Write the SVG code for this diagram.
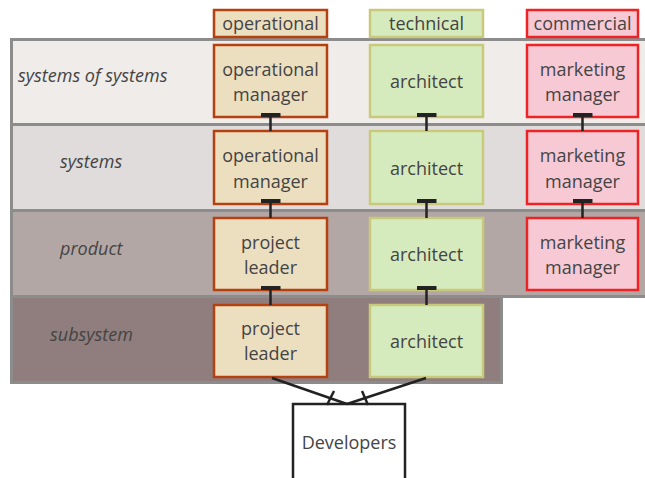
<svg xmlns="http://www.w3.org/2000/svg" width="645" height="478" viewBox="0 0 645 478">
  <defs>
    <style>
      text { font-family: "Open Sans", "Noto Sans", "Liberation Sans", sans-serif; font-size: 18px; fill: #444; text-anchor: middle; }
      .lvl { font-style: italic; text-anchor: start; fill: #444; }
      .band { stroke: #8c8c8c; stroke-width: 3; }
      .op { fill: #ecdfc0; stroke: #b4410f; stroke-width: 2.5; }
      .tech { fill: #d6ebbd; stroke: #c9c97c; stroke-width: 2.5; }
      .com { fill: #f7c9d5; stroke: #ee2424; stroke-width: 2.5; }
      .dev { fill: #fff; stroke: #222; stroke-width: 2.5; }
      .link { stroke: #222; stroke-width: 2.5; fill: none; }
    </style>
    <marker id="tee" viewBox="0 0 4 20" refX="2" refY="10" markerWidth="4" markerHeight="20" markerUnits="userSpaceOnUse" orient="auto">
      <rect x="0" y="0" width="4" height="20" fill="#222"/>
    </marker>
  </defs>

  <!-- abstraction levels -->
  <g id="level-sos">
    <rect class="band" x="11.5" y="39.5" width="640" height="85" fill="#f0ecea"/>
    <text class="lvl" x="18" y="82">systems of systems</text>
  </g>
  <g id="level-systems">
    <rect class="band" x="11.5" y="124.5" width="640" height="86" fill="#e0dcdc"/>
    <text class="lvl" x="60" y="168">systems</text>
  </g>
  <g id="level-product">
    <rect class="band" x="11.5" y="210.5" width="640" height="86" fill="#b3a7a6"/>
    <text class="lvl" x="60" y="255">product</text>
  </g>
  <g id="level-subsystem">
    <rect class="band" x="11.5" y="296.5" width="490" height="86" fill="#8f7e7d"/>
    <text class="lvl" x="50" y="341">subsystem</text>
  </g>

  <!-- column headers -->
  <g id="hdr-operational">
    <rect class="op" x="214" y="10" width="113" height="27"/>
    <text x="270.5" y="30">operational</text>
  </g>
  <g id="hdr-technical">
    <rect class="tech" x="370" y="10" width="113" height="27"/>
    <text x="426.5" y="30">technical</text>
  </g>
  <g id="hdr-commercial">
    <rect class="com" x="527" y="10" width="111" height="27"/>
    <text x="582.5" y="30">commercial</text>
  </g>

  <!-- roles, row 1 -->
  <g id="op1">
    <rect class="op" x="214" y="45" width="113" height="72"/>
    <text x="270.5" y="76">operational</text>
    <text x="270.5" y="101">manager</text>
  </g>
  <g id="tech1">
    <rect class="tech" x="370" y="45" width="113" height="72"/>
    <text x="426.5" y="88">architect</text>
  </g>
  <g id="com1">
    <rect class="com" x="527" y="45" width="111" height="72"/>
    <text x="582.5" y="76">marketing</text>
    <text x="582.5" y="101">manager</text>
  </g>

  <!-- roles, row 2 -->
  <g id="op2">
    <rect class="op" x="214" y="131" width="113" height="73"/>
    <text x="270.5" y="162">operational</text>
    <text x="270.5" y="188">manager</text>
  </g>
  <g id="tech2">
    <rect class="tech" x="370" y="131" width="113" height="73"/>
    <text x="426.5" y="175">architect</text>
  </g>
  <g id="com2">
    <rect class="com" x="527" y="131" width="111" height="73"/>
    <text x="582.5" y="162">marketing</text>
    <text x="582.5" y="188">manager</text>
  </g>

  <!-- roles, row 3 -->
  <g id="op3">
    <rect class="op" x="214" y="218" width="113" height="72"/>
    <text x="270.5" y="249">project</text>
    <text x="270.5" y="274">leader</text>
  </g>
  <g id="tech3">
    <rect class="tech" x="370" y="218" width="113" height="72"/>
    <text x="426.5" y="261">architect</text>
  </g>
  <g id="com3">
    <rect class="com" x="527" y="218" width="111" height="72"/>
    <text x="582.5" y="249">marketing</text>
    <text x="582.5" y="274">manager</text>
  </g>

  <!-- roles, row 4 -->
  <g id="op4">
    <rect class="op" x="214" y="305" width="113" height="72"/>
    <text x="270.5" y="335">project</text>
    <text x="270.5" y="360">leader</text>
  </g>
  <g id="tech4">
    <rect class="tech" x="370" y="305" width="113" height="72"/>
    <text x="426.5" y="348">architect</text>
  </g>

  <g id="developers">
    <rect class="dev" x="293" y="404" width="112" height="80"/>
    <text x="349" y="449">Developers</text>
  </g>

  <!-- reporting lines -->
  <g id="connectors">
    <line class="link" x1="270.5" y1="131" x2="270.5" y2="115" marker-end="url(#tee)"/>
    <line class="link" x1="270.5" y1="218" x2="270.5" y2="201" marker-end="url(#tee)"/>
    <line class="link" x1="270.5" y1="305" x2="270.5" y2="288" marker-end="url(#tee)"/>
    <line class="link" x1="426.5" y1="131" x2="426.5" y2="115" marker-end="url(#tee)"/>
    <line class="link" x1="426.5" y1="218" x2="426.5" y2="201" marker-end="url(#tee)"/>
    <line class="link" x1="426.5" y1="305" x2="426.5" y2="288" marker-end="url(#tee)"/>
    <line class="link" x1="582.5" y1="131" x2="582.5" y2="115" marker-end="url(#tee)"/>
    <line class="link" x1="582.5" y1="218" x2="582.5" y2="201" marker-end="url(#tee)"/>
    <!-- to developers -->
    <line class="link" x1="272" y1="378" x2="347" y2="404"/>
    <line class="link" x1="426" y1="378" x2="347" y2="404"/>
    <line class="link" x1="327" y1="405" x2="334" y2="391"/>
    <line class="link" x1="362" y1="391" x2="368" y2="405"/>
  </g>
</svg>
